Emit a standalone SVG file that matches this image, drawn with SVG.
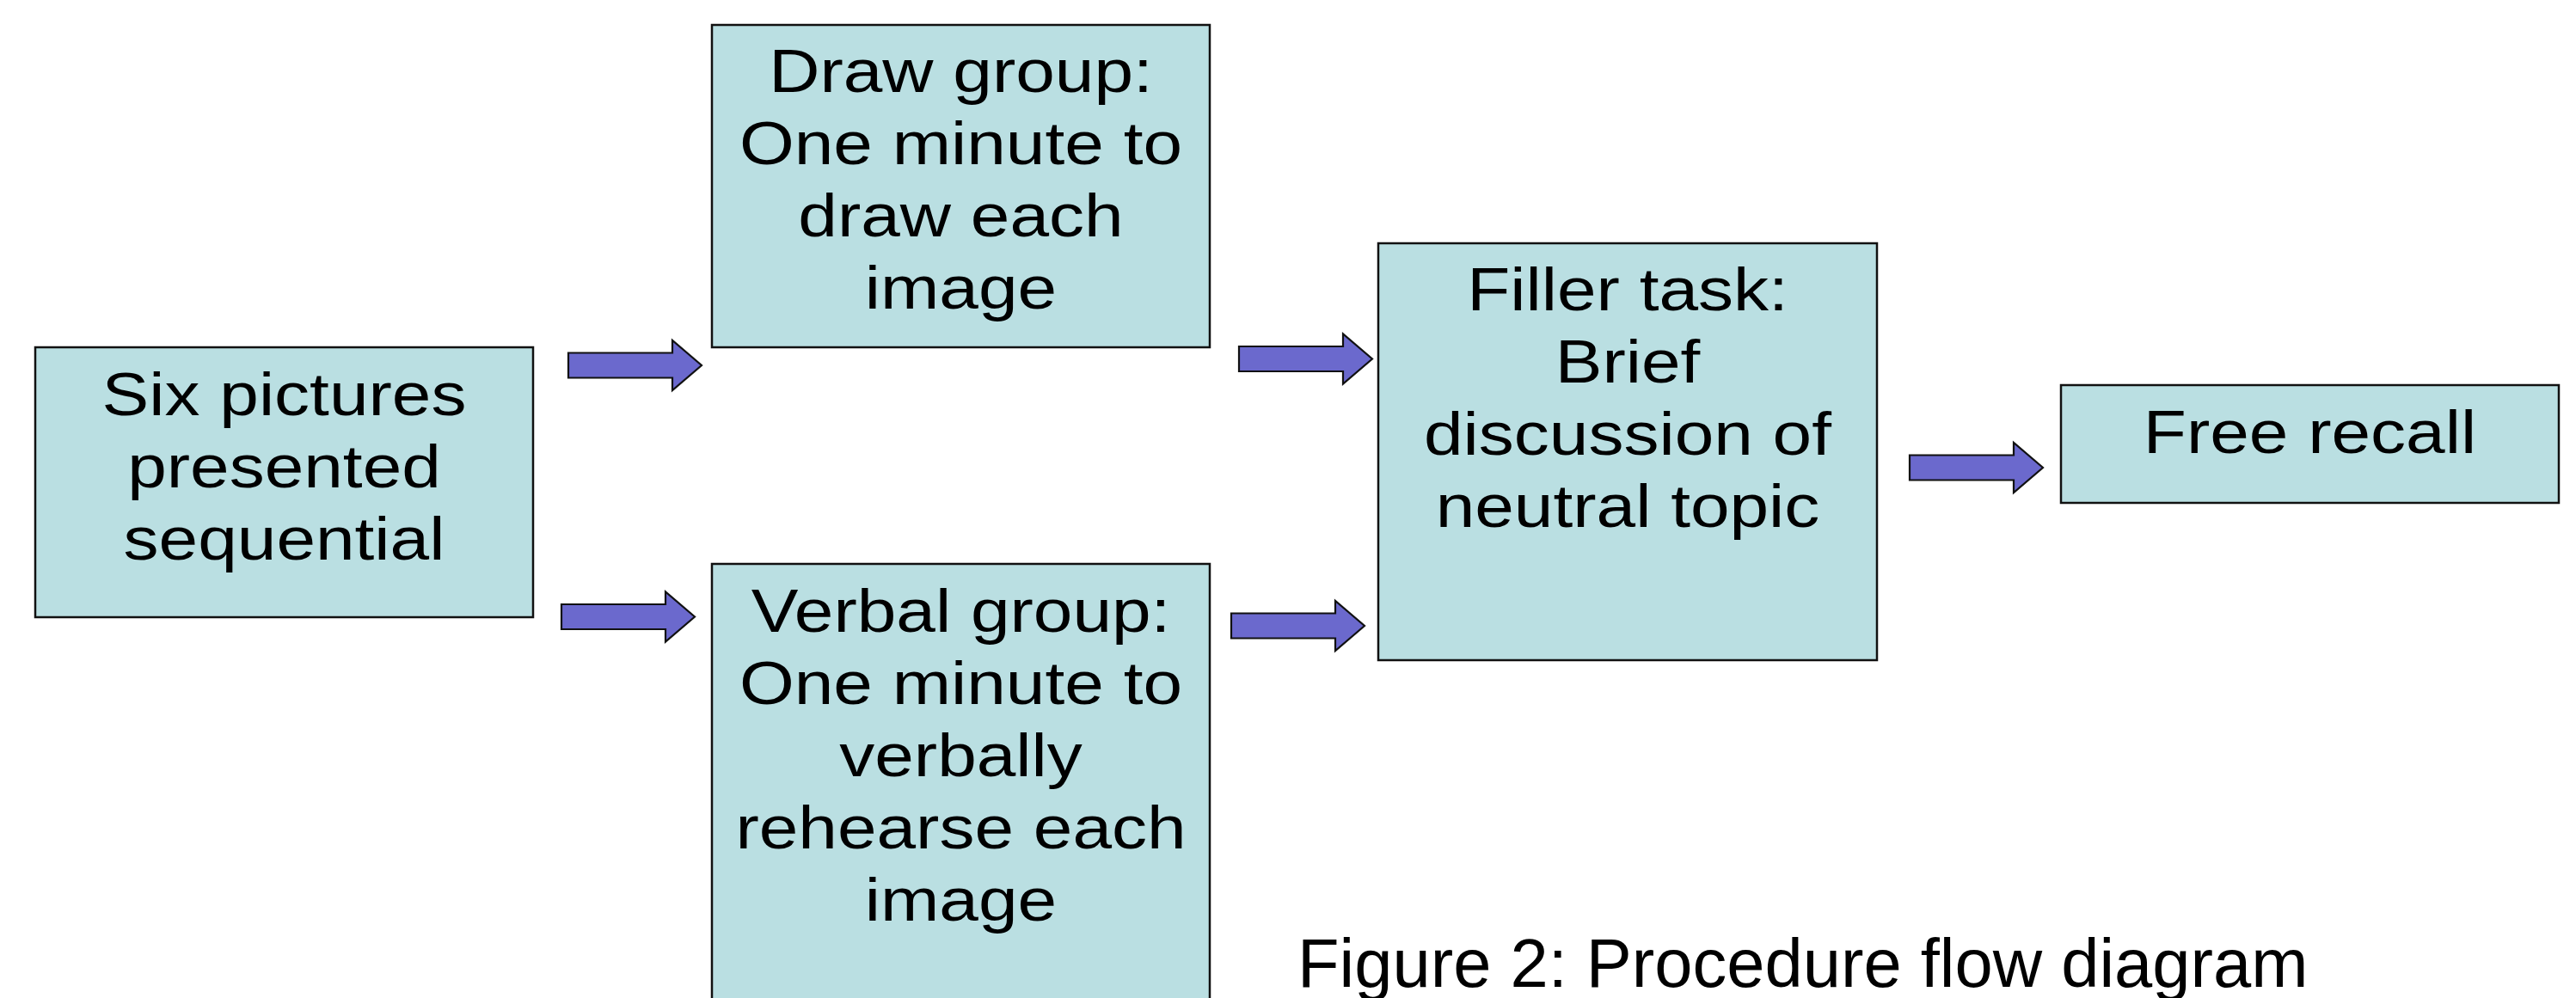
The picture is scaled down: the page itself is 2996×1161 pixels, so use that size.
<svg xmlns="http://www.w3.org/2000/svg" xmlns:xlink="http://www.w3.org/1999/xlink" width="2996" height="1161" viewBox="0 0 2996 1161">
  <style>
    .box { fill: #badfe2; stroke: #111; stroke-width: 2.5; }
    .lbl { font-family: "Liberation Sans", Arial, sans-serif; font-size: 71px; fill: #000; text-anchor: middle; }
    .arrow { fill: #6b69cd; stroke: #111; stroke-width: 2.2; stroke-linejoin: miter; }
    .caption { font-family: "Liberation Sans", Arial, sans-serif; font-size: 79.5px; fill: #000; }
  </style>
  <defs>
    <!-- block arrow pointing right, origin at the tail, centred vertically -->
    <path id="blockArrow" d="M0,-14.5 H121 V-29 L155,0 L121,29 V14.5 H0 Z"/>
  </defs>

  <rect width="2996" height="1161" fill="#fff"/>

  <g id="connectors">
    <use xlink:href="#blockArrow" href="#blockArrow" class="arrow" transform="translate(661,425)"/>
    <use xlink:href="#blockArrow" href="#blockArrow" class="arrow" transform="translate(653,717.5)"/>
    <use xlink:href="#blockArrow" href="#blockArrow" class="arrow" transform="translate(1441,417.5)"/>
    <use xlink:href="#blockArrow" href="#blockArrow" class="arrow" transform="translate(1432,728)"/>
    <use xlink:href="#blockArrow" href="#blockArrow" class="arrow" transform="translate(2221,544)"/>
  </g>

  <g id="node-six">
    <rect class="box" x="41" y="404" width="579" height="314"/>
    <g transform="matrix(1.155 0 0 1 330.5 0)">
      <text class="lbl" x="0" y="483">Six pictures</text>
      <text class="lbl" x="0" y="567">presented</text>
      <text class="lbl" x="0" y="651">sequential</text>
    </g>
  </g>

  <g id="node-draw">
    <rect class="box" x="828" y="29" width="579" height="375"/>
    <g transform="matrix(1.155 0 0 1 1117.5 0)">
      <text class="lbl" x="0" y="107">Draw group:</text>
      <text class="lbl" x="0" y="191">One minute to</text>
      <text class="lbl" x="0" y="275">draw each</text>
      <text class="lbl" x="0" y="359">image</text>
    </g>
  </g>

  <g id="node-verbal">
    <rect class="box" x="828" y="656" width="579" height="540"/>
    <g transform="matrix(1.155 0 0 1 1117.5 0)">
      <text class="lbl" x="0" y="735">Verbal group:</text>
      <text class="lbl" x="0" y="819">One minute to</text>
      <text class="lbl" x="0" y="903">verbally</text>
      <text class="lbl" x="0" y="987">rehearse each</text>
      <text class="lbl" x="0" y="1071">image</text>
    </g>
  </g>

  <g id="node-filler">
    <rect class="box" x="1603" y="283" width="580" height="485"/>
    <g transform="matrix(1.155 0 0 1 1893 0)">
      <text class="lbl" x="0" y="361">Filler task:</text>
      <text class="lbl" x="0" y="445">Brief</text>
      <text class="lbl" x="0" y="529">discussion of</text>
      <text class="lbl" x="0" y="613">neutral topic</text>
    </g>
  </g>

  <g id="node-recall">
    <rect class="box" x="2397" y="448" width="579" height="137"/>
    <g transform="matrix(1.155 0 0 1 2686.5 0)">
      <text class="lbl" x="0" y="527">Free recall</text>
    </g>
  </g>

  <text class="caption" x="1509" y="1148">Figure 2: Procedure flow diagram</text>
</svg>
